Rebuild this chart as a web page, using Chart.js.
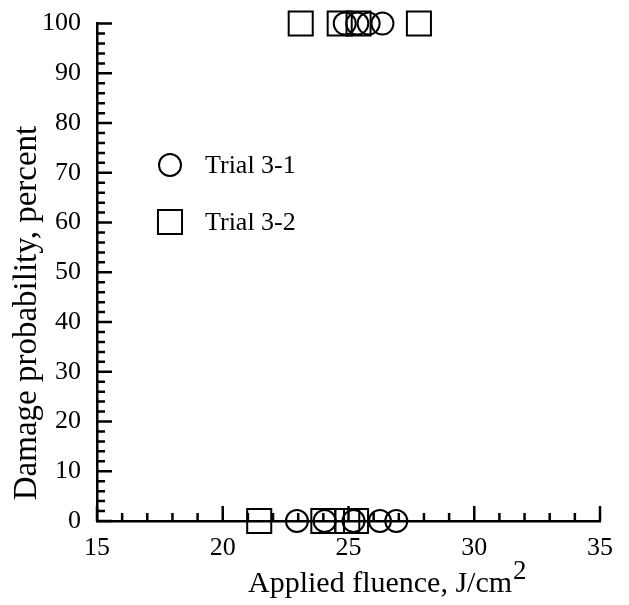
<!DOCTYPE html>
<html>
<head>
<meta charset="utf-8">
<script src="https://cdn.jsdelivr.net/npm/chart.js@4"></script>
<style>
  html, body { margin: 0; padding: 0; background: #fff; }
  #wrap { width: 629px; height: 605px; }
</style>
</head>
<body>
<div id="wrap"><canvas id="damageChart"></canvas></div>
<script>
// values
const trial1Fluence = [22.95, 24.05, 25.2, 26.25, 26.9, 24.85, 25.35, 25.8, 26.35];
const trial1Damage  = [0, 0, 0, 0, 0, 100, 100, 100, 100];
const trial2Fluence = [21.45, 24.0, 24.95, 25.3, 23.1, 24.65, 25.4, 27.8];
const trial2Damage  = [0, 0, 0, 0, 100, 100, 100, 100];
const xTicks = [15, 20, 25, 30, 35];
const yTicks = [0, 10, 20, 30, 40, 50, 60, 70, 80, 90, 100];

const serif = "'Liberation Serif', 'DejaVu Serif', serif";

function toPoints(xs, ys) {
    return xs.map((x, i) => ({ x: x, y: ys[i] }));
}

// inward tick marks, axis titles and the in-plot legend
const decorations = {
    id: 'decorations',
    afterDraw(chart) {
        const ctx = chart.ctx;
        const xs = chart.scales.x, ys = chart.scales.y;
        const area = chart.chartArea;
        ctx.save();
        ctx.strokeStyle = '#000';
        ctx.lineWidth = 2.5;
        ctx.beginPath();
        for (let v = 0; v <= 100; v += 2) {
            const py = ys.getPixelForValue(v);
            const len = v % 10 === 0 ? 15 : 8;
            ctx.moveTo(area.left, py);
            ctx.lineTo(area.left + len, py);
        }
        for (let v = 15; v <= 35; v += 1) {
            const px = xs.getPixelForValue(v);
            const len = v % 5 === 0 ? 15 : 8;
            ctx.moveTo(px, area.bottom);
            ctx.lineTo(px, area.bottom - len);
        }
        ctx.stroke();

        // x title with superscript
        ctx.fillStyle = '#000';
        ctx.textBaseline = 'alphabetic';
        ctx.textAlign = 'left';
        ctx.font = '30px ' + serif;
        const main = 'Applied fluence, J/cm';
        ctx.fillText(main, 248, 592);
        const w = ctx.measureText(main).width;
        ctx.font = '27px ' + serif;
        ctx.fillText('2', 248 + w + 1, 579);

        // y title
        ctx.save();
        ctx.translate(27, 313);
        ctx.rotate(-Math.PI / 2);
        ctx.textAlign = 'center';
        ctx.textBaseline = 'middle';
        ctx.font = '33px ' + serif;
        ctx.fillText('Damage probability, percent', 0, 0);
        ctx.restore();

        // legend
        ctx.lineWidth = 2;
        ctx.textBaseline = 'middle';
        ctx.textAlign = 'left';
        ctx.fillStyle = '#fff';
        Chart.helpers.drawPoint(ctx, { pointStyle: 'circle', radius: 11, rotation: 0, borderWidth: 2 }, 170, 165);
        Chart.helpers.drawPoint(ctx, { pointStyle: 'rect', radius: 17, rotation: 0, borderWidth: 2 }, 170, 222);
        ctx.fillStyle = '#000';
        ctx.font = '26px ' + serif;
        ctx.fillText('Trial 3-1', 205, 166);
        ctx.fillText('Trial 3-2', 205, 223);
        ctx.restore();
    }
};

const ctx = document.getElementById('damageChart').getContext('2d');
new Chart(ctx, {
    type: 'scatter',
    data: {
        datasets: [
        {
            label: 'Trial 3-1',
            data: toPoints(trial1Fluence, trial1Damage),
            pointStyle: 'circle',
            pointRadius: 11,
            pointHoverRadius: 11,
            borderColor: '#000',
            backgroundColor: 'rgba(0,0,0,0)',
            borderWidth: 2,
            clip: false
        },
        {
            label: 'Trial 3-2',
            data: toPoints(trial2Fluence, trial2Damage),
            pointStyle: 'rect',
            pointRadius: 17,
            pointHoverRadius: 17,
            borderColor: '#000',
            backgroundColor: 'rgba(0,0,0,0)',
            borderWidth: 2,
            clip: false
        }]
    },
    options: {
        responsive: true,
        maintainAspectRatio: false,
        animation: false,
        layout: { padding: { top: 21, right: 29, left: 0, bottom: 0 } },
        plugins: {
            legend: { display: false },
            tooltip: { enabled: false }
        },
        scales: {
            x: {
                type: 'linear',
                min: 15,
                max: 35,
                afterFit: s => { s.height = 84; },
                afterBuildTicks: s => { s.ticks = xTicks.map(v => ({ value: v })); },
                grid: { display: false },
                border: { display: true, color: '#000', width: 2.5 },
                ticks: {
                    color: '#000',
                    padding: 4,
                    maxRotation: 0,
                    font: { family: serif, size: 26 }
                }
            },
            y: {
                type: 'linear',
                min: 0,
                max: 100,
                afterFit: s => { s.width = 97; },
                afterBuildTicks: s => { s.ticks = yTicks.map(v => ({ value: v })); },
                grid: { display: false },
                border: { display: true, color: '#000', width: 2.5 },
                ticks: {
                    color: '#000',
                    padding: 8,
                    font: { family: serif, size: 26 }
                }
            }
        }
    },
    plugins: [decorations]
});
</script>
</body>
</html>
